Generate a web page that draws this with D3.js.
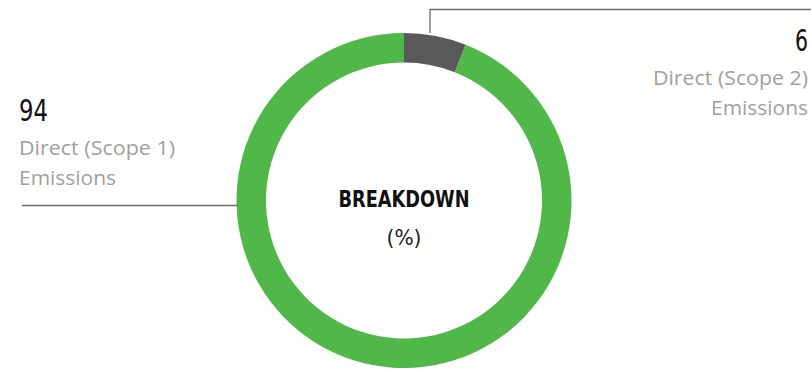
<!DOCTYPE html>
<html>
<head>
<meta charset="utf-8">
<script src="https://cdn.jsdelivr.net/npm/d3@7"></script>
<style>
  html, body { margin: 0; padding: 0; background: #ffffff; }
  svg { display: block; }
</style>
</head>
<body>
<svg id="chart" width="811" height="369"></svg>
<script>
// Emissions breakdown (%)
const categories = ["Direct (Scope 2) Emissions", "Direct (Scope 1) Emissions"];
const values = [6, 94];
const colors = ["#59595b", "#50b848"];

const svg = d3.select("#chart");
const cx = 404, cy = 200.5;
const outerR = 167.5, innerR = 138;

const pie = d3.pie().sort(null).value(d => d);
const arc = d3.arc().innerRadius(innerR).outerRadius(outerR);
const arcs = pie(values);

const g = svg.append("g").attr("transform", `translate(${cx},${cy})`);
g.selectAll("path")
  .data(arcs)
  .enter().append("path")
  .attr("d", arc)
  .attr("fill", (d, i) => colors[i]);

const condFont = "'DejaVu Sans Condensed', 'DejaVu Sans', sans-serif";
const lblFont = "'Open Sans', 'Noto Sans', sans-serif";

// Center label
g.append("text")
  .attr("x", 0).attr("y", 6.5)
  .attr("text-anchor", "middle")
  .attr("font-family", condFont)
  .attr("font-weight", "bold")
  .attr("font-size", 23)
  .attr("textLength", 131)
  .attr("lengthAdjust", "spacingAndGlyphs")
  .attr("fill", "#111")
  .text("BREAKDOWN");
g.append("text")
  .attr("x", 0).attr("y", 44.5)
  .attr("text-anchor", "middle")
  .attr("font-family", condFont)
  .attr("font-size", 22)
  .attr("textLength", 35)
  .attr("lengthAdjust", "spacingAndGlyphs")
  .attr("fill", "#222")
  .text("(%)");

// Leader lines
const lineColor = "#6d6d6d";
// Scope 2: from the top of the ring up and out to the right
const a0 = arcs[0].startAngle;
const sx = cx + Math.sin(a0) * outerR + 26;
svg.append("path")
  .attr("d", `M${sx},${cy - Math.cos(a0) * outerR} V9.5 H811`)
  .attr("fill", "none")
  .attr("stroke", lineColor)
  .attr("stroke-width", 1.3);
// Scope 1: horizontal line to the left edge of the ring
svg.append("path")
  .attr("d", `M22,205.5 H${cx - outerR + 1}`)
  .attr("fill", "none")
  .attr("stroke", lineColor)
  .attr("stroke-width", 1.3);

// Value labels
function label(x, y, anchor, value, lines, numW, lineW) {
  svg.append("text")
    .attr("x", x).attr("y", y)
    .attr("text-anchor", anchor)
    .attr("font-family", condFont)
    .attr("font-size", 30)
    .attr("textLength", numW)
    .attr("lengthAdjust", "spacingAndGlyphs")
    .attr("fill", "#111")
    .text(value);
  lines.forEach((t, i) => {
    svg.append("text")
      .attr("x", x).attr("y", y + 34 + i * 30)
      .attr("text-anchor", anchor)
      .attr("font-family", lblFont)
      .attr("font-size", 20)
      .attr("textLength", lineW[i])
      .attr("lengthAdjust", "spacingAndGlyphs")
      .attr("fill", "#a0a0a0")
      .text(t);
  });
}

label(19, 121, "start", values[1], ["Direct (Scope 1)", "Emissions"], 29, [156, 97]);
label(808, 51, "end", values[0], ["Direct (Scope 2)", "Emissions"], 13, [155, 97]);
</script>
</body>
</html>
